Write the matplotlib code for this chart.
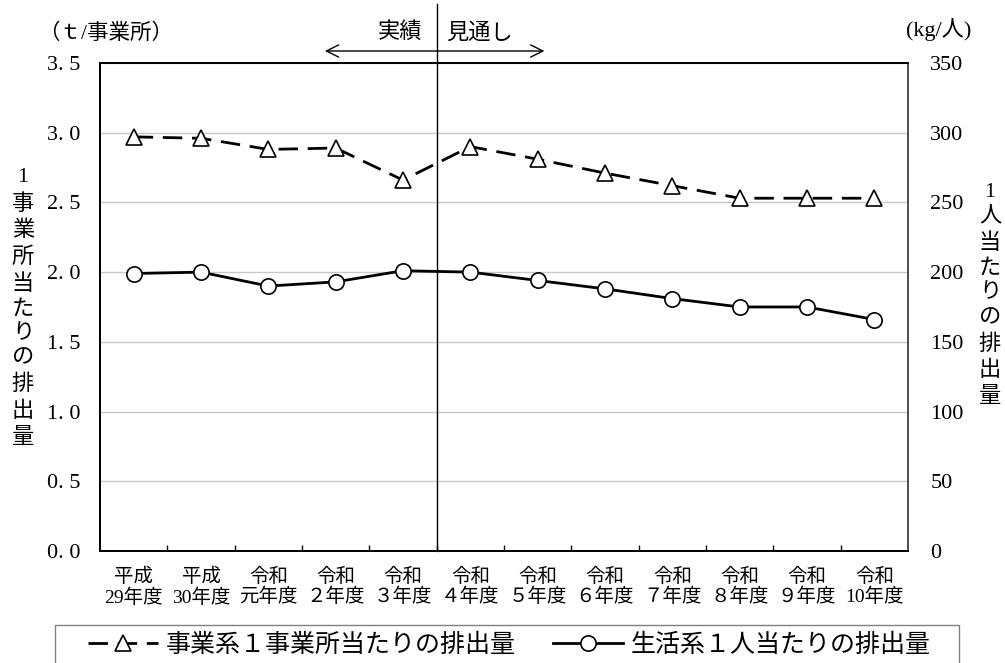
import matplotlib
matplotlib.use('Agg')
import matplotlib.pyplot as plt
import matplotlib.transforms as mtransforms
from matplotlib.lines import Line2D
from matplotlib.patches import Rectangle
from matplotlib.ticker import FuncFormatter
import numpy as np

plt.rcParams['font.family'] = ['Liberation Serif', 'Noto Sans CJK JP']

# data
years = ['平成\n29年度', '平成\n30年度', '令和\n元年度', '令和\n２年度', '令和\n３年度', '令和\n４年度',
         '令和\n５年度', '令和\n６年度', '令和\n７年度', '令和\n８年度', '令和\n９年度', '令和\n10年度']
office_t = [2.97, 2.96, 2.88, 2.89, 2.66, 2.90, 2.81, 2.71, 2.62, 2.53, 2.53, 2.53]
person_kg = [199, 200, 190, 193, 201, 200, 194, 188, 181, 175, 175, 166]
left_ticks = [0.0, 0.5, 1.0, 1.5, 2.0, 2.5, 3.0, 3.5]
right_ticks = [0, 50, 100, 150, 200, 250, 300, 350]
split_at = 4.5  # boundary between actual and forecast

fig = plt.figure(figsize=(10.05, 6.63), dpi=100)
ax = fig.add_axes([0.0995, 0.169, 0.804, 0.736])
ax2 = ax.twinx()

x = np.arange(len(years))
l1, = ax.plot(x, office_t, color='black', lw=2, linestyle=(0, (7, 3.5)), marker='^', ms=11,
              mfc='white', mec='black', mew=1.2, label='事業系１事業所当たりの排出量', zorder=3)
l2, = ax2.plot(x, person_kg, color='black', lw=2, marker='o', ms=11,
               mfc='white', mec='black', mew=1.2, label='生活系１人当たりの排出量', zorder=3)

ax.set_ylim(0, 3.5)
ax.set_yticks(left_ticks)
ax.yaxis.set_major_formatter(FuncFormatter(lambda v, p: f'{v:.1f}'.replace('.', '. ')))
ax.tick_params(axis='y', length=0, pad=14, labelsize=16)
ax.grid(axis='y', color='#c8c8c8', lw=1)
ax.set_axisbelow(True)

ax2.set_ylim(0, 350)
ax2.set_yticks(right_ticks)
ax2.tick_params(axis='y', length=0, pad=16, labelsize=16)

ax.set_xlim(-0.5, len(years) - 0.5)
ax.set_xticks(np.arange(0.5, len(years) - 1, 1))
ax.set_xticklabels([])
ax.tick_params(axis='x', which='major', direction='in', length=4.5, width=1)
ax.set_xticks(x, minor=True)
ax.set_xticklabels(years, minor=True, fontsize=14, linespacing=1.15)
ax.tick_params(axis='x', which='minor', length=0, pad=12)

for a in (ax, ax2):
    for s in a.spines.values():
        s.set_color('black')
        s.set_linewidth(1.3)
ax2.spines['right'].set_color('#595959')

# actual / forecast divider
trans = mtransforms.blended_transform_factory(ax.transData, fig.transFigure)
fig.add_artist(Line2D([split_at, split_at], [0.169, 1 - 4 / 663], transform=trans, color='black', lw=1))
ax.annotate('', xy=(split_at - 1.66, 1 - 51 / 663), xytext=(split_at + 1.6, 1 - 51 / 663),
            xycoords=trans, textcoords=trans,
            arrowprops=dict(arrowstyle='<->', lw=1, color='black', mutation_scale=22, shrinkA=0, shrinkB=0))
ax.annotate('実績', xy=(split_at, 1 - 33 / 663), xycoords=trans, xytext=(-10, 0),
            textcoords='offset points', ha='right', va='center', fontsize=16)
ax.annotate('見通し', xy=(split_at, 1 - 33 / 663), xycoords=trans, xytext=(7, 0),
            textcoords='offset points', ha='left', va='center', fontsize=16)

# unit and axis labels
fig.text(38 / 1005, 1 - 34 / 663, '（ｔ/事業所）', ha='left', va='center', fontsize=15.5)
fig.text(906 / 1005, 1 - 30 / 663, '(kg/人)', ha='left', va='center', fontsize=16)
fig.text(23 / 1005, 1 - 308 / 663, '\n'.join('1事業所当たりの排出量'), ha='center', va='center',
         fontsize=16, linespacing=1.4, multialignment='center')
fig.text(990 / 1005, 1 - 295 / 663, '\n'.join('1人当たりの排出量'), ha='center', va='center',
         fontsize=16, linespacing=1.4, multialignment='center')

# legend (box runs off the bottom edge)
fig.add_artist(Rectangle((55 / 1005, -0.05), 904 / 1005, 0.05 + 1 - 625 / 663, transform=fig.transFigure,
                         fill=False, edgecolor='#808080', lw=1))
fig.legend([l1, l2], [l1.get_label(), l2.get_label()], loc='center left',
           bbox_to_anchor=(88 / 1005, 1 - 645 / 663), ncol=2, frameon=False, fontsize=18,
           handlelength=2.8, handletextpad=0.3, columnspacing=1.5, borderaxespad=0, borderpad=0)

fig.savefig('out.png', dpi=100)
